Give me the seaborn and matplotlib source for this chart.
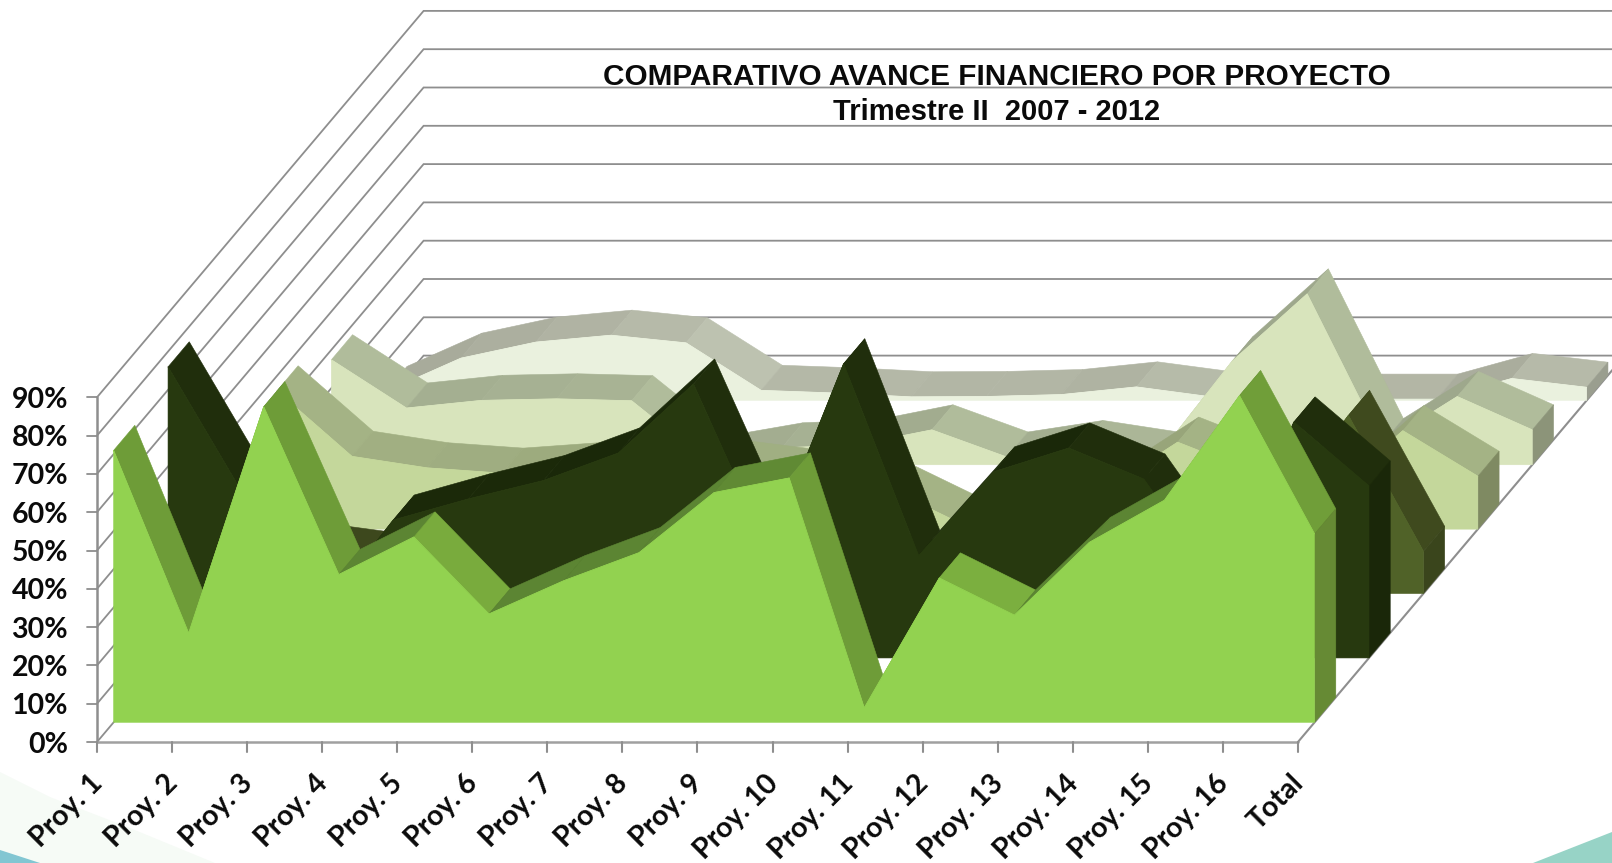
import numpy as np
import pandas as pd
import matplotlib
matplotlib.use("Agg")
import matplotlib.pyplot as plt
from matplotlib.colors import to_rgb
import seaborn as sns

proyectos = ["Proy. 1", "Proy. 2", "Proy. 3", "Proy. 4", "Proy. 5", "Proy. 6", "Proy. 7", "Proy. 8", "Proy. 9",
             "Proy. 10", "Proy. 11", "Proy. 12", "Proy. 13", "Proy. 14", "Proy. 15", "Proy. 16", "Total"]
pct_ticks = [0, 10, 20, 30, 40, 50, 60, 70, 80, 90]
serie_1 = [71, 23.3, 82.4, 38.6, 48.4, 28.3, 37, 44.3, 60, 63.8, 3.8, 37.7, 28, 47, 58, 85.3, 49.2]
serie_2 = [76, 42.8, 11, 36, 41.5, 46.3, 53.5, 71.5, 28, 76.8, 26.7, 48.6, 54.8, 46.7, 19, 61.6, 44.9]
serie_3 = [15, 12, 9.4, 12, 18, 20, 18, 15, 15, 8, 5, 8, 25, 22, 20, 46.5, 11]
serie_4 = [36.1, 19, 16, 14.6, 16, 17, 16.5, 14, 12, 2.5, 6, 10, 22.7, 15, 8.6, 25.7, 13.8]
serie_5 = [27.4, 14.8, 16.8, 17.2, 16.7, 1, 4.4, 5.2, 9.1, 2, 5, 2, 27, 44.6, 5.5, 17.8, 9.1]
serie_6 = [2.3, 11, 15.2, 17, 15, 2.6, 1.9, 0.9, 1, 1.5, 3.5, 0.9, 0.6, 0.3, 0.3, 5.7, 3.4]
series = [serie_1, serie_2, serie_3, serie_4, serie_5, serie_6]

# face, ribbon falling, ribbon rising, end cap
colores = [("#92D250", "#6E9C38", "#5C8533", "#668A34"),
           ("#27390F", "#202E0C", "#1A2809", "#1A2709"),
           ("#506228", "#3F4A1E", "#38431A", "#3A451C"),
           ("#C4D79B", "#A4B385", "#98A57A", "#7F8A62"),
           ("#D8E4BC", "#B0BC9B", "#9EA88C", "#8C9479"),
           ("#EAF1DE", "#BDC2B0", "#A8AB9B", "#9A9E8F")]

W, H = 1612, 863
ORIG_X, ORIG_Y = 97.0, 742.0      # front-left corner of the floor
CAT_STEP = 75.06
PCT_PX = 3.83
DEPTH_X, DEPTH_Y = 326.6, 386.4
SLOT_OFFSET, RIBBON = 0.305, 0.39
GRID = "#8E8E8E"

def proj(cat, pct, depth):
    return (ORIG_X + np.asarray(cat, float) * CAT_STEP + depth * DEPTH_X,
            ORIG_Y - np.asarray(pct, float) * PCT_PX - depth * DEPTH_Y)

sns.set_theme(style="white")
plt.rcParams["font.family"] = ["Lato", "DejaVu Sans"]
fig = plt.figure(figsize=(W / 100, H / 100), dpi=100, facecolor="white")
ax = fig.add_axes([0, 0, 1, 1])

# decorative corners
ax.fill([0, 50, 130, 215, 0], [772, 797, 828, 863, 863], color="#F6FBF6", lw=0, zorder=0)
ax.fill([0, 40, 0], [850, 863, 863], color="#82C6D2", lw=0, zorder=1)
ax.fill([1533, 1612, 1612], [863, 832, 863], color="#97D3C6", lw=0, zorder=1)

# walls and floor
n_cat = len(proyectos)
last = n_cat - 1
for p in pct_ticks:
    x0, y0 = proj(0, p, 0)
    x1, y1 = proj(0, p, 1)
    x2, y2 = proj(last, p, 1)
    ax.plot([x0, x1, x2], [y0, y1, y2], color=GRID, lw=1.3, zorder=2, solid_joinstyle="miter")
    ax.plot([x0 - 10, x0], [y0, y0], color=GRID, lw=1.3, zorder=2)
    ax.text(x0 - 29, y0 + 2.5, f"{p}%", ha="right", va="center", fontsize=20.5, fontweight="bold", color="#0A0A0A")
xa, ya = proj(0, 0, 0)
xb, yb = proj(0, pct_ticks[-1], 0)
ax.plot([xa, xb], [ya, yb], color=GRID, lw=1.8, zorder=2)
xc, yc = proj(last, 0, 0)
xd, yd = proj(last, 0, 1)
ax.plot([xa, xc], [ya, yc], color="#A0A0A0", lw=1.8, zorder=2)
ax.plot([xc, xd], [yc, yd], color=GRID, lw=1.5, zorder=2)
for i, lab in enumerate(proyectos):
    xt, yt = proj(i, 0, 0)
    ax.plot([xt, xt], [yt, yt + 10], color=GRID, lw=1.5, zorder=2)
    ax.text(xt - 8, yt + 28, lab, rotation=45, rotation_mode="anchor", ha="right", va="top",
            fontsize=20.5, fontweight="bold", color="#0A0A0A")

# series, back to front
z = 10
for s in range(len(series) - 1, -1, -1):
    vals = np.array(series[s], float)
    cats = np.arange(n_cat)
    d0 = (s + SLOT_OFFSET) / 6
    d1 = (s + SLOT_OFFSET + RIBBON) / 6
    fx, fy = proj(cats, vals, d0)
    bx, by = proj(cats, vals, d1)
    _, base0 = proj(0, 0, d0)
    xe, base1 = proj(last, 0, d1)
    face, fall, rise, cap = colores[s]
    f_rgb, r_rgb = np.array(to_rgb(fall)), np.array(to_rgb(rise))
    for i in range(n_cat - 1):
        slope = (fy[i + 1] - fy[i]) / (fx[i + 1] - fx[i])
        t = np.clip((slope + 0.35) / 0.7, 0, 1)
        col = r_rgb + (f_rgb - r_rgb) * t
        if s == 0 and slope > 0:
            col = np.clip(col * (1 + 0.12 * np.clip((2 - slope) / 1.2, 0, 1)), 0, 1)
        ax.fill([fx[i], fx[i + 1], bx[i + 1], bx[i]], [fy[i], fy[i + 1], by[i + 1], by[i]],
                color=col, lw=0.4, zorder=z)
        z += 1
    ax.fill([fx[-1], bx[-1], bx[-1], fx[-1]], [fy[-1], by[-1], base1, base0], color=cap, lw=0.4, zorder=z)
    z += 1
    ax.fill(np.r_[fx, fx[-1], fx[0]], np.r_[fy, base0, base0], color=face, lw=0.4, zorder=z)
    z += 1
    tabla = pd.DataFrame({"x": fx, "y": fy})
    sns.lineplot(data=tabla, x="x", y="y", estimator=None, sort=False, color=face, lw=0.6, ax=ax, zorder=z)
    z += 1

ax.text(997, 77, "COMPARATIVO AVANCE FINANCIERO POR PROYECTO", ha="center", va="center", fontsize=21.4,
        fontweight="bold", family="Liberation Sans", color="#0A0A0A", zorder=z)
ax.text(997, 112, "Trimestre II  2007 - 2012", ha="center", va="center", fontsize=21,
        fontweight="bold", family="Liberation Sans", color="#0A0A0A", zorder=z)

ax.set_xlim(0, W)
ax.set_ylim(H, 0)
ax.set_xlabel("")
ax.set_ylabel("")
ax.axis("off")
fig.savefig("out.png", dpi=100, facecolor="white")
